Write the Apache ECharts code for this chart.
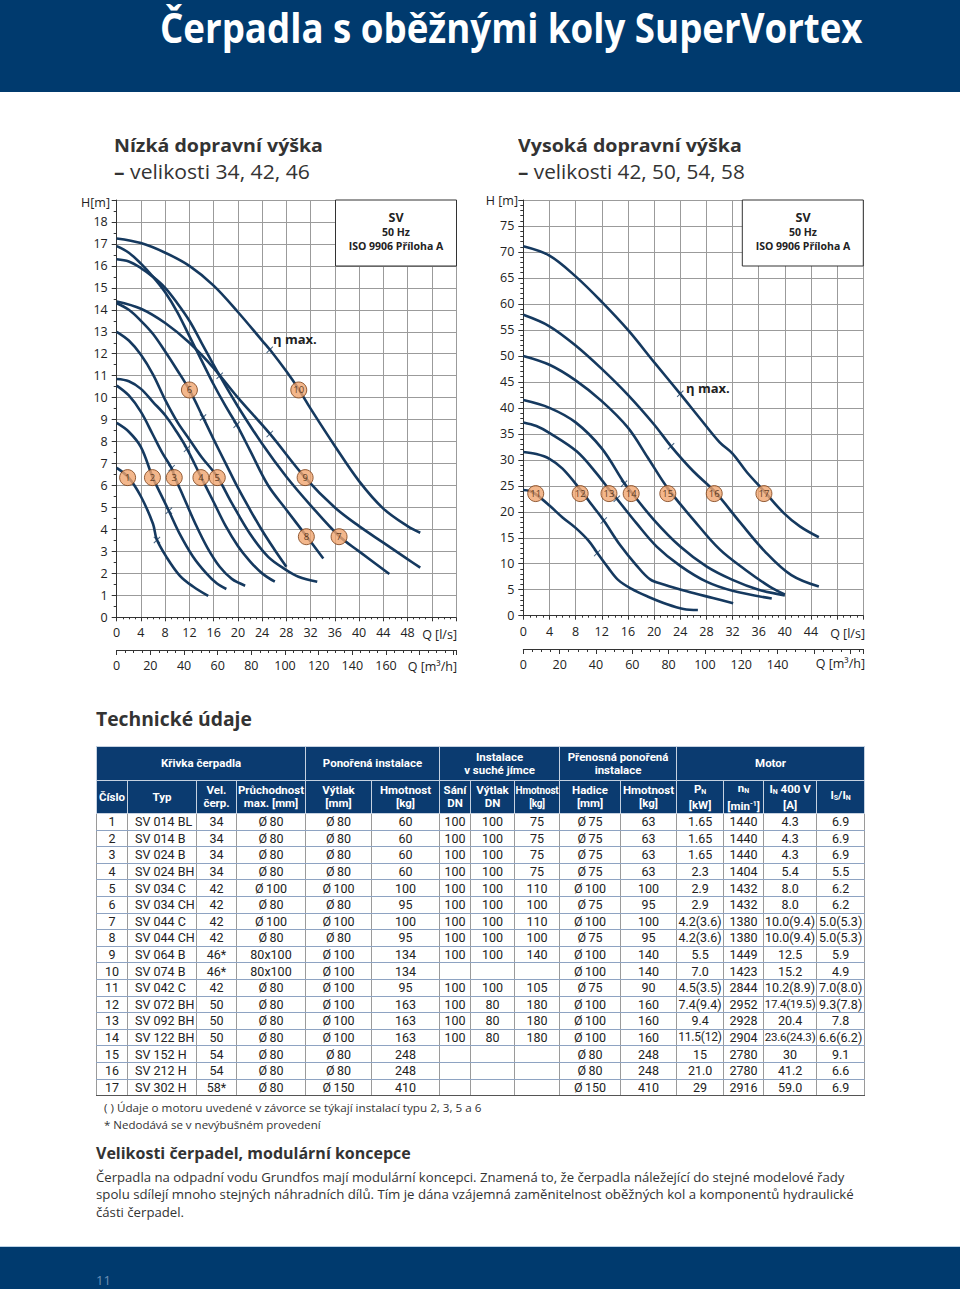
<!DOCTYPE html>
<html><head><meta charset="utf-8">
<script src="https://cdn.jsdelivr.net/npm/echarts@6/dist/echarts.min.js"></script>
<style>
html,body{margin:0;padding:0;background:#fff;}
body{width:960px;height:1289px;position:relative;overflow:hidden;font-family:"Open Sans","Noto Sans",sans-serif;color:#2b2b2b;}
.t{position:absolute;white-space:nowrap;}
.t span{display:inline-block;transform-origin:0 50%;}
#hdr{position:absolute;left:0;top:0;width:960px;height:92px;background:#003a6e;}
#ftr{position:absolute;left:0;top:1246px;width:960px;height:43px;background:#003a6e;border-top:1px solid #bcd3e6;}
#chart{position:absolute;left:0;top:0;width:960px;height:700px;}
table{position:absolute;left:96px;top:746px;width:768px;border-collapse:collapse;table-layout:fixed;font-family:Roboto,"Open Sans",sans-serif;}
th{background:#0b3b70;color:#fff;font-weight:bold;font-size:11.5px;line-height:13px;padding:0;border:1px solid #c5d1e0;text-align:center;white-space:nowrap;overflow:hidden;}
td{font-size:12.5px;color:#222;height:15.6px;line-height:15px;padding:0;text-align:center;border-left:1px solid #9a9a9a;border-right:1px solid #9a9a9a;border-bottom:1px solid #8ea3c2;white-space:nowrap;overflow:hidden;}
td.l{text-align:left;padding-left:7px;}
tbody tr:last-child td{border-bottom:1px solid #555;}
sub{font-size:7px;vertical-align:-1px;}
sup{font-size:7px;vertical-align:4px;}
</style></head>
<body>
<div id="hdr"></div>
<div class="t" style="left:160px;top:2px;font-size:42px;line-height:46px;font-weight:bold;color:#fff;"><span data-w="703" data-sy="1">Čerpadla s oběžnými koly SuperVortex</span></div>

<div class="t" style="left:114px;top:132px;font-size:22px;line-height:22px;font-weight:bold;color:#333;"><span data-w="209" data-sx="1.08">Nízká dopravní výška</span></div>
<div class="t" style="left:114px;top:158.5px;font-size:22px;line-height:22px;color:#333;"><span data-w="196" data-sx="1.08"><b>–</b> velikosti 34, 42, 46</span></div>
<div class="t" style="left:518px;top:132px;font-size:22px;line-height:22px;font-weight:bold;color:#333;"><span data-w="224" data-sx="1.08">Vysoká dopravní výška</span></div>
<div class="t" style="left:518px;top:158.5px;font-size:22px;line-height:22px;color:#333;"><span data-w="227" data-sx="1.08"><b>–</b> velikosti 42, 50, 54, 58</span></div>

<div id="chart"></div>

<div class="t" style="left:96px;top:707px;font-size:21px;line-height:22px;font-weight:bold;color:#333;"><span data-w="156">Technické údaje</span></div>

<table id="tbl">
<colgroup id="cols"></colgroup>
<thead>
<tr style="height:34px"><th colspan="4">Křivka čerpadla</th><th colspan="2">Ponořená instalace</th><th colspan="3">Instalace<br>v suché jímce</th><th colspan="2">Přenosná ponořená<br>instalace</th><th colspan="4">Motor</th></tr>
<tr style="height:33px"><th>Číslo</th><th>Typ</th><th>Vel.<br>čerp.</th><th>Průchodnost<br>max. [mm]</th><th>Výtlak<br>[mm]</th><th>Hmotnost<br>[kg]</th><th>Sání<br>DN</th><th>Výtlak<br>DN</th><th>Hmotnost<br>[kg]</th><th>Hadice<br>[mm]</th><th>Hmotnost<br>[kg]</th><th>P<sub>N</sub><br>[kW]</th><th>n<sub>N</sub><br>[min<sup>-1</sup>]</th><th>I<sub>N</sub> 400 V<br>[A]</th><th>I<sub>S</sub>/I<sub>N</sub></th></tr>
</thead>
<tbody id="tb"></tbody>
</table>

<div class="t" style="left:104px;top:1100px;font-size:13px;line-height:14px;color:#333;"><span data-w="378">( ) Údaje o motoru uvedené v závorce se týkají instalací typu 2, 3, 5 a 6</span></div>
<div class="t" style="left:104px;top:1117px;font-size:13px;line-height:14px;color:#333;"><span data-w="217">* Nedodává se v nevýbušném provedení</span></div>
<div class="t" style="left:96px;top:1142px;font-size:18px;line-height:20px;font-weight:bold;color:#333;"><span data-w="315">Velikosti čerpadel, modulární koncepce</span></div>
<div class="t" style="left:96px;top:1169px;font-size:14.5px;line-height:16px;color:#333;"><span data-w="749">Čerpadla na odpadní vodu Grundfos mají modulární koncepci. Znamená to, že čerpadla náležející do stejné modelové řady</span></div>
<div class="t" style="left:96px;top:1186px;font-size:14.5px;line-height:16px;color:#333;"><span data-w="758">spolu sdílejí mnoho stejných náhradních dílů. Tím je dána vzájemná zaměnitelnost oběžných kol a komponentů hydraulické</span></div>
<div class="t" style="left:96px;top:1204px;font-size:14.5px;line-height:16px;color:#333;"><span data-w="88">části čerpadel.</span></div>

<div id="ftr"></div>
<div class="t" style="left:96px;top:1273px;font-size:13px;line-height:14px;color:#6d8fb5;"><span>11</span></div>

<script>
// ---------- chart data: low head (Q l/s, H m) ----------
const curve1 = [[0,6.8],[2,6.35],[4,5.5],[6,4.25],[6.6,3.55],[8.2,2.75],[10.4,1.9],[12.6,1.4],[15.1,0.97]];
const curve2 = [[0,8.85],[2,8.45],[4,7.75],[5.9,6.4],[7.1,5.7],[8.6,4.85],[10.4,3.8],[12.6,2.76],[14.8,2.0],[16.5,1.55],[18.1,1.29]];
const curve3 = [[0,10.55],[2,10.1],[4,9.35],[6,8.3],[7.5,7.5],[9.06,6.79],[9.5,6.45],[11,5.5],[13,4.25],[15,3.15],[17,2.3],[19,1.75],[21.2,1.44]];
const curve4 = [[0,10.85],[2,10.75],[4,10.4],[6,9.8],[8,9.2],[10,8.4],[11.6,7.67],[13.9,6.4],[16,5.25],[18,4.15],[20,3.25],[22,2.55],[24,2.0],[26.1,1.62]];
const curve5 = [[0,13.0],[2,12.6],[4,11.95],[6,11.05],[8,9.9],[10,8.9],[12,8.1],[14,7.3],[16.6,6.4],[19,5.2],[22,3.8],[25,2.75],[28,2.15],[30,1.85],[33.1,1.62]];
const curve6 = [[0,14.3],[2,14.0],[4,13.5],[6,12.9],[8,12.1],[10,11.25],[12,10.35],[14.25,9.1],[16,8.1],[18,7.0],[20,5.9],[22,4.9],[24,3.95],[26,3.1],[28,2.3]];
const curve7 = [[0,16.3],[2,16.2],[4,15.9],[6,15.5],[8,15.0],[10,14.3],[12,13.5],[14,12.5],[17,11.0],[20,9.6],[24,7.9],[28,6.4],[32,5.1],[36.7,3.7],[40,3.0],[45,1.97]];
const curve8 = [[0,16.9],[2,16.6],[4,16.1],[6,15.5],[8,14.8],[10,13.9],[12,12.8],[14,11.7],[16,10.6],[18,9.6],[19.8,8.77],[22,7.6],[25,6.0],[28,4.9],[31.3,3.7],[34.1,2.68]];
const curve9 = [[0,14.38],[4,14.05],[8,13.4],[12,12.5],[16,11.35],[20,10.0],[25.3,8.35],[31.1,6.36],[36,5.0],[40,4.15],[44,3.4],[48,2.65],[50.1,2.26]];
const curve10 = [[0,17.25],[4,17.04],[8,16.6],[12,16.0],[16,15.1],[20,13.9],[24,12.6],[25.3,12.18],[28,11.2],[30,10.4],[32,9.5],[36,7.8],[40,6.2],[44,4.95],[48,4.15],[50.1,3.85]];
const lowEtaMarks = [[6.64,3.52],[8.62,4.85],[9.06,6.79],[11.6,7.67],[14.25,9.1],[17.0,11.0],[19.8,8.77],[25.26,8.35],[25.26,12.18]];
const lowCurveLabels = [[1.8,6.36,'1'],[5.9,6.36,'2'],[9.5,6.36,'3'],[13.9,6.36,'4'],[16.6,6.36,'5'],[12.0,10.35,'6'],[36.7,3.67,'7'],[31.3,3.67,'8'],[31.1,6.36,'9'],[30.05,10.35,'10']];

// ---------- chart data: high head ----------
const curve11 = [[0,24.2],[1,24.0],[2,23.3],[4,21.2],[6,18.9],[8,16.9],[10,14.4],[11.3,12.1],[13,9.2],[14.5,6.9],[16.5,5.2],[19,3.7],[22,2.2],[24.5,1.3],[26.7,1.1]];
const curve12 = [[0,31.5],[2,31.1],[4,30.2],[6,28.3],[8.7,24.3],[10.5,21.3],[12.3,18.3],[14.8,13.6],[17.3,9.7],[19.4,7.0],[21.6,5.96],[25,4.7],[29,3.4],[32.1,2.4]];
const curve13 = [[0,37.2],[2,36.5],[4.1,35.1],[8.2,31.6],[11.2,27.4],[13.1,24.3],[14.3,22.5],[17.3,17.8],[20.4,13.3],[24,9.6],[28.1,6.5],[32,4.8],[38,3.3]];
const curve14 = [[0,41.5],[4,40],[8,37.2],[12,32.2],[15.4,25.6],[16.5,23.8],[20,18.4],[24,13.3],[28,9.5],[32,6.9],[36,5.0],[40,3.9]];
const curve15 = [[0,50],[4,48.3],[8,45.3],[12,41.3],[16,36.2],[19,30.5],[22.1,24.5],[26,18.5],[30,12.8],[34,8.8],[37.8,5.5],[40,4.1]];
const curve16 = [[0,57.9],[4,55.7],[8,52.0],[12,47.5],[16,42.5],[20,36.8],[22.6,32.6],[26,27.8],[29.2,24.0],[33,18.2],[37,12.3],[41,7.8],[45.2,5.6]];
const curve17 = [[0,71.1],[4,69.3],[8,65.3],[12,60.4],[16,55.0],[20,48.8],[24,42.7],[27,38.0],[30,33.4],[32,31.2],[34.2,27.6],[36.8,24.0],[39.8,19.8],[42.3,17.2],[45.2,15.1]];
const highEtaMarks = [[11.3,12.05],[12.3,18.3],[14.3,22.5],[15.4,25.4],[22.6,32.6],[24,42.7]];
const highCurveLabels = [[1.9,23.5,'11'],[8.7,23.5,'12'],[13.1,23.5,'13'],[16.5,23.5,'14'],[22.1,23.5,'15'],[29.2,23.5,'16'],[36.8,23.5,'17']];

// ---------- table data ----------
const tableCols = [31,69,40,69,66,68,31,44,45,61,56,47,40,53,48];
const tableRows = [
['1','SV 014 BL','34','Ø 80','Ø 80','60','100','100','75','Ø 75','63','1.65','1440','4.3','6.9'],
['2','SV 014 B','34','Ø 80','Ø 80','60','100','100','75','Ø 75','63','1.65','1440','4.3','6.9'],
['3','SV 024 B','34','Ø 80','Ø 80','60','100','100','75','Ø 75','63','1.65','1440','4.3','6.9'],
['4','SV 024 BH','34','Ø 80','Ø 80','60','100','100','75','Ø 75','63','2.3','1404','5.4','5.5'],
['5','SV 034 C','42','Ø 100','Ø 100','100','100','100','110','Ø 100','100','2.9','1432','8.0','6.2'],
['6','SV 034 CH','42','Ø 80','Ø 80','95','100','100','100','Ø 75','95','2.9','1432','8.0','6.2'],
['7','SV 044 C','42','Ø 100','Ø 100','100','100','100','110','Ø 100','100','4.2(3.6)','1380','10.0(9.4)','5.0(5.3)'],
['8','SV 044 CH','42','Ø 80','Ø 80','95','100','100','100','Ø 75','95','4.2(3.6)','1380','10.0(9.4)','5.0(5.3)'],
['9','SV 064 B','46*','80x100','Ø 100','134','100','100','140','Ø 100','140','5.5','1449','12.5','5.9'],
['10','SV 074 B','46*','80x100','Ø 100','134','','','','Ø 100','140','7.0','1423','15.2','4.9'],
['11','SV 042 C','42','Ø 80','Ø 100','95','100','100','105','Ø 75','90','4.5(3.5)','2844','10.2(8.9)','7.0(8.0)'],
['12','SV 072 BH','50','Ø 80','Ø 100','163','100','80','180','Ø 100','160','7.4(9.4)','2952','17.4(19.5)','9.3(7.8)'],
['13','SV 092 BH','50','Ø 80','Ø 100','163','100','80','180','Ø 100','160','9.4','2928','20.4','7.8'],
['14','SV 122 BH','50','Ø 80','Ø 100','163','100','80','180','Ø 100','160','11.5(12)','2904','23.6(24.3)','6.6(6.2)'],
['15','SV 152 H','54','Ø 80','Ø 80','248','','','','Ø 80','248','15','2780','30','9.1'],
['16','SV 212 H','54','Ø 80','Ø 80','248','','','','Ø 80','248','21.0','2780','41.2','6.6'],
['17','SV 302 H','58*','Ø 80','Ø 150','410','','','','Ø 150','410','29','2916','59.0','6.9']
];

// build table
const cg = document.getElementById('cols');
tableCols.forEach(w => { const c = document.createElement('col'); c.style.width = w + 'px'; cg.appendChild(c); });
const tb = document.getElementById('tb');
tableRows.forEach(r => {
  const tr = document.createElement('tr');
  r.forEach((v, i) => {
    const td = document.createElement('td');
    td.textContent = v.replace('Ø ', 'Ø\u2009');
    if (i === 1) td.className = 'l';
    tr.appendChild(td);
  });
  tb.appendChild(tr);
});
// shrink cell text that does not fit its column
document.querySelectorAll('#tbl th, #tbl td').forEach(el => {
  let fs = parseFloat(getComputedStyle(el).fontSize);
  let guard = 0;
  while (el.scrollWidth > el.clientWidth && fs > 7 && guard++ < 20) {
    fs -= 0.5; el.style.fontSize = fs + 'px'; el.style.letterSpacing = '-0.2px';
  }
});

// fit text widths by font size (title also keeps its glyph height)
document.querySelectorAll('.t span[data-w]').forEach(s => {
  const w = s.getBoundingClientRect().width;
  const target = +s.dataset.w;
  if (w > 0) {
    const k = target / w;
    const sx = s.dataset.sx ? +s.dataset.sx : 1;
    const fs = parseFloat(getComputedStyle(s.parentNode).fontSize);
    s.style.fontSize = (fs * k / sx).toFixed(3) + 'px';
    if (s.dataset.sy) s.style.transform = 'scaleY(' + (1 / k).toFixed(4) + ')';
    else if (sx !== 1) s.style.transform = 'scaleX(' + sx + ')';
  }
});

// ---------- chart ----------
const chart = echarts.init(document.getElementById('chart'), null, {renderer: 'svg'});
const NAVY = '#15395f';
const GRIDC = '#9b9b9b';
const FONT = '"Open Sans", "Noto Sans", sans-serif';
const lowCurves = [curve1, curve2, curve3, curve4, curve5, curve6, curve7, curve8, curve9, curve10];
const highCurves = [curve11, curve12, curve13, curve14, curve15, curve16, curve17];
const XPATH = 'path://M1,0L5,4L9,0L10,1L6,5L10,9L9,10L5,6L1,10L0,9L4,5L0,1Z';

function mainX(idx, max, maxLabel) {
  return {gridIndex: idx, type: 'value', min: 0, max: max, interval: 4,
    axisLine: {show: true, lineStyle: {color: '#333', width: 1}},
    axisTick: {show: true, length: 4, lineStyle: {color: '#333'}},
    minorTick: {show: true, splitNumber: 4, length: 2, lineStyle: {color: '#333'}},
    axisLabel: {formatter: v => v <= maxLabel ? String(v) : '', color: '#222', fontSize: 12.5, fontFamily: FONT, margin: 9},
    splitLine: {show: true, lineStyle: {color: GRIDC, width: 1}}};
}
function m3hX(idx, max, maxLabel) {
  return {gridIndex: idx, type: 'value', min: 0, max: max, interval: 20,
    axisLine: {show: true, lineStyle: {color: '#333', width: 1}},
    axisTick: {show: true, length: 5, lineStyle: {color: '#333'}},
    minorTick: {show: true, splitNumber: 4, length: 3, lineStyle: {color: '#333'}},
    axisLabel: {formatter: v => v <= maxLabel ? String(v) : '', color: '#222', fontSize: 12.5, fontFamily: FONT, margin: 9},
    splitLine: {show: false}};
}
function mainY(idx, max, interval, maxLabel, minor) {
  return {gridIndex: idx, type: 'value', min: 0, max: max, interval: interval,
    axisLine: {show: true, lineStyle: {color: '#333', width: 1}},
    axisTick: {show: true, length: 5, lineStyle: {color: '#333'}},
    minorTick: {show: true, splitNumber: minor, length: 3, lineStyle: {color: '#333'}},
    axisLabel: {formatter: v => v <= maxLabel ? String(v) : '', color: '#222', fontSize: 12.5, fontFamily: FONT, margin: 9},
    splitLine: {show: true, lineStyle: {color: GRIDC, width: 1}}};
}
const dummyY = idx => ({gridIndex: idx, type: 'value', min: 0, max: 1, show: false});

const series = [];
function addSet(curves, marks, labels, ai) {
  curves.forEach(c => series.push({type: 'line', xAxisIndex: ai, yAxisIndex: ai, data: c, showSymbol: false, smooth: 0.35,
    lineStyle: {color: NAVY, width: 2.6}, silent: true, z: 3}));
  series.push({type: 'scatter', xAxisIndex: ai, yAxisIndex: ai, data: marks, symbol: XPATH, symbolSize: 7,
    itemStyle: {color: NAVY}, silent: true, z: 4});
  series.push({type: 'scatter', xAxisIndex: ai, yAxisIndex: ai, data: labels, symbol: 'circle', symbolSize: 16,
    itemStyle: {color: '#f0a56f', borderColor: '#7a3d14', borderWidth: 1}, silent: true, z: 5,
    label: {show: true, position: 'inside', formatter: p => p.data[2], color: '#3b1c07', fontSize: 9.5, fontFamily: FONT}});
}
addSet(lowCurves, lowEtaMarks, lowCurveLabels, 0);
addSet(highCurves, highEtaMarks, highCurveLabels, 2);

function txt(x, y, text, opt) {
  return Object.assign({type: 'text', x: x, y: y, silent: true,
    style: Object.assign({text: text, fill: '#222', font: '12.5px ' + FONT, textVerticalAlign: 'middle', verticalAlign: 'middle'}, opt || {})});
}
function box(x, cx) {
  return [
    {type: 'rect', shape: {x: x, y: 200, width: 121, height: 66}, style: {fill: '#fff', stroke: '#333', lineWidth: 1}, z: 10},
    txt(cx, 217, 'SV', {textAlign: 'center', align: 'center', font: 'bold 12.5px ' + FONT}),
    txt(cx, 232, '50 Hz', {textAlign: 'center', align: 'center', font: 'bold 10.5px ' + FONT}),
    txt(cx, 246, 'ISO 9906 Příloha A', {textAlign: 'center', align: 'center', font: 'bold 10.5px ' + FONT})
  ];
}
const graphic = [].concat(
  box(335.5, 396), box(742.3, 803),
  [txt(110, 202, 'H[m]', {textAlign: 'right', align: 'right'}),
   txt(518, 200, 'H [m]', {textAlign: 'right', align: 'right'}),
   txt(457, 634, 'Q [l/s]', {textAlign: 'right', align: 'right'}),
   txt(457, 666, 'Q [m³/h]', {textAlign: 'right', align: 'right'}),
   txt(865, 633, 'Q [l/s]', {textAlign: 'right', align: 'right'}),
   txt(865, 663, 'Q [m³/h]', {textAlign: 'right', align: 'right'}),
   txt(273, 339, 'η max.', {font: 'bold 13px ' + FONT}),
   txt(686, 388, 'η max.', {font: 'bold 13px ' + FONT})]
).map(g => Object.assign({z: 20}, g));

chart.setOption({
  animation: false,
  grid: [
    {left: 116.7, top: 200, width: 339.3, height: 417.3, outerBoundsMode: 'none'},
    {left: 116.7, top: 649, width: 339.3, height: 1, outerBoundsMode: 'none'},
    {left: 523.3, top: 200, width: 340, height: 415.7, outerBoundsMode: 'none'},
    {left: 523.3, top: 648, width: 340, height: 1, outerBoundsMode: 'none'}
  ],
  xAxis: [mainX(0, 56, 48), m3hX(1, 201.6, 160), mainX(2, 52, 44), m3hX(3, 187.2, 140)],
  yAxis: [mainY(0, 19, 1, 18, 2), dummyY(1), mainY(2, 80, 5, 75, 5), dummyY(3)],
  series: series,
  graphic: graphic
});
</script>
</body></html>
